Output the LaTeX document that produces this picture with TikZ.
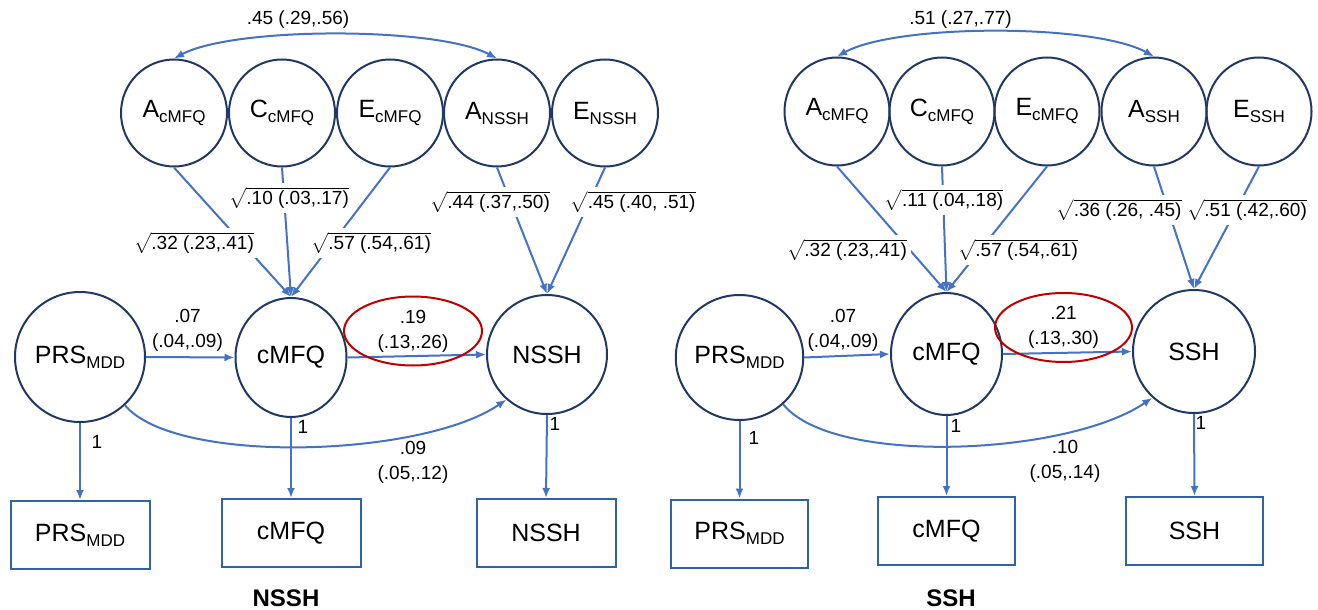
\documentclass[tikz,border=0pt]{standalone}
\usepackage{amsmath}
\usepackage{fontspec}
\setmainfont{Liberation Sans}
\usepackage{xcolor}
\usepackage{tikz}
\usetikzlibrary{shapes,arrows.meta}

\definecolor{latnavy}{RGB}{32,56,100}
\definecolor{linkblue}{RGB}{68,114,196}
\definecolor{boxblue}{RGB}{46,100,166}
\definecolor{markred}{RGB}{192,0,0}

\newcommand{\lsub}[1]{\raisebox{-5pt}{\fontsize{17}{20}\selectfont #1}}

\tikzset{
  latent/.style={ellipse, draw=latnavy, line width=2pt, inner sep=0pt, font=\fontsize{25}{28}\selectfont},
  observed/.style={rectangle, draw=boxblue, line width=2pt, minimum width=139pt, minimum height=68pt, font=\fontsize{25}{28}\selectfont},
  link/.style={draw=linkblue, line width=2pt, -{Latex[length=10pt,width=8pt]}},
  twolink/.style={draw=linkblue, line width=2pt, {Latex[length=10pt,width=8pt]}-{Latex[length=10pt,width=8pt]}},
  coef/.style={font=\fontsize{19}{25}\selectfont, align=center, inner sep=1pt},
  load/.style={coef, fill=white, inner sep=4pt},
  hilite/.style={ellipse, draw=markred, line width=2pt, minimum width=138pt, minimum height=69pt, coef},
  title/.style={font=\fontsize{24}{28}\selectfont\bfseries}
}

\begin{document}
\begin{tikzpicture}[x=1pt,y=1pt,yscale=-1]
\useasboundingbox (0,0) rectangle (1318,610);

%%%%% NSSH model (left)
% genetic / environmental factors
\node[latent, minimum width=106pt, minimum height=107pt] (AcL) at (174,113) {A\lsub{cMFQ}};
\node[latent, minimum width=106pt, minimum height=107pt] (CcL) at (282,113) {C\lsub{cMFQ}};
\node[latent, minimum width=106pt, minimum height=107pt] (EcL) at (390,113) {E\lsub{cMFQ}};
\node[latent, minimum width=106pt, minimum height=107pt] (AnL) at (497,113) {A\lsub{NSSH}};
\node[latent, minimum width=106pt, minimum height=107pt] (EnL) at (605,113) {E\lsub{NSSH}};

% latent phenotypes
\node[latent, minimum width=130pt, minimum height=130pt] (PRSL) at (80,357) {PRS\lsub{MDD}};
\node[latent, minimum width=111pt, minimum height=119pt] (cMFQL) at (291,357.5) {cMFQ};
\node[latent, minimum width=120pt, minimum height=119pt] (NSSHL) at (547,354.5) {NSSH};

% measured variables
\node[observed] (PRSbL) at (80,535) {PRS\lsub{MDD}};
\node[observed] (cMFQbL) at (291,533) {cMFQ};
\node[observed] (NSSHbL) at (546,533) {NSSH};

% paths
\draw[twolink] (AcL.north) .. controls +(60,-32) and +(-60,-32) .. (AnL.north);
\draw[link] (AcL.south) -- (cMFQL.north);
\draw[link] (CcL.south) -- (cMFQL.north);
\draw[link] (EcL.south) -- (cMFQL.north);
\draw[link] (AnL.south) -- (NSSHL.north);
\draw[link] (EnL.south) -- (NSSHL.north);
\draw[link] (PRSL.east) -- (cMFQL.west);
\draw[link] (cMFQL.east) -- (NSSHL.west);
\draw[link] (PRSL.-47) .. controls +(50,60) and +(-85,58) .. (NSSHL.-132);
\draw[link] (PRSL.south) -- (PRSbL.north);
\draw[link] (cMFQL.south) -- (cMFQbL.north);
\draw[link] (NSSHL.south) -- (NSSHbL.north);

% coefficients
\node[coef] (rAL) at (298,20) {.45 (.29,.56)};
\node[load] (qAcL) at (194,243) {$\sqrt{\text{.32 (.23,.41)}}$};
\node[load] (qCcL) at (289,198) {$\sqrt{\text{.10 (.03,.17)}}$};
\node[load] (qEcL) at (371,243) {$\sqrt{\text{.57 (.54,.61)}}$};
\node[load] (qAnL) at (490,202) {$\sqrt{\text{.44 (.37,.50)}}$};
\node[load] (qEnL) at (633,202) {$\sqrt{\text{.45 (.40, .51)}}$};
\node[coef] (bPcL) at (187.5,330.5) {.07\\(.04,.09)};
\node[hilite] (bcnL) at (413,331) {.19\\(.13,.26)};
\node[coef] (bPnL) at (413,462) {.09\\(.05,.12)};
\node[coef] (oPL) at (97,442) {1};
\node[coef] (ocL) at (303,427) {1};
\node[coef] (onL) at (555,424) {1};

% Text Node
\node[title] (tL) at (286,598) {NSSH};

%%%%% SSH model (right)
% genetic / environmental factors
\node[latent, minimum width=105pt, minimum height=108pt] (AcR) at (837,111.5) {A\lsub{cMFQ}};
\node[latent, minimum width=105pt, minimum height=108pt] (CcR) at (942,111.5) {C\lsub{cMFQ}};
\node[latent, minimum width=105pt, minimum height=108pt] (EcR) at (1047,111.5) {E\lsub{cMFQ}};
\node[latent, minimum width=105pt, minimum height=108pt] (AsR) at (1154,111.5) {A\lsub{SSH}};
\node[latent, minimum width=105pt, minimum height=108pt] (EsR) at (1259,111.5) {E\lsub{SSH}};

% latent phenotypes
\node[latent, minimum width=125pt, minimum height=125pt] (PRSR) at (739.5,357.5) {PRS\lsub{MDD}};
\node[latent, minimum width=111pt, minimum height=122pt] (cMFQR) at (946.5,354) {cMFQ};
\node[latent, minimum width=122pt, minimum height=123pt] (SSHR) at (1194,351.5) {SSH};

% measured variables
\node[observed, minimum width=137pt] (PRSbR) at (739.5,533.5) {PRS\lsub{MDD}};
\node[observed, minimum width=137pt] (cMFQbR) at (946.5,531) {cMFQ};
\node[observed, minimum width=137pt] (SSHbR) at (1194.5,531) {SSH};

% paths
\draw[twolink] (AcR.north) .. controls +(60,-33) and +(-60,-33) .. (AsR.north);
\draw[link] (AcR.south) -- (cMFQR.north);
\draw[link] (CcR.south) -- (cMFQR.north);
\draw[link] (EcR.south) -- (cMFQR.north);
\draw[link] (AsR.south) -- (SSHR.north);
\draw[link] (EsR.south) -- (SSHR.north);
\draw[link] (PRSR.east) -- (cMFQR.west);
\draw[link] (cMFQR.east) -- (SSHR.west);
\draw[link] (PRSR.-47) .. controls +(50,62) and +(-85,58) .. (SSHR.-132);
\draw[link] (PRSR.south) -- (PRSbR.north);
\draw[link] (cMFQR.south) -- (cMFQbR.north);
\draw[link] (SSHR.south) -- (SSHbR.north);

% coefficients
\node[coef] (rAR) at (960.5,20) {.51 (.27,.77)};
\node[load] (qAcR) at (847,250) {$\sqrt{\text{.32 (.23,.41)}}$};
\node[load] (qCcR) at (944,200) {$\sqrt{\text{.11 (.04,.18)}}$};
\node[load] (qEcR) at (1018,250) {$\sqrt{\text{.57 (.54,.61)}}$};
\node[load] (qAsR) at (1119,210) {$\sqrt{\text{.36 (.26, .45)}}$};
\node[load] (qEsR) at (1247,210) {$\sqrt{\text{.51 (.42,.60)}}$};
\node[coef] (bPcR) at (843,330.5) {.07\\(.04,.09)};
\node[hilite, minimum width=137pt] (bcsR) at (1063.5,327.5) {.21\\(.13,.30)};
\node[coef] (bPsR) at (1065,461) {.10\\(.05,.14)};
\node[coef] (oPR) at (754,438) {1};
\node[coef] (ocR) at (956,426) {1};
\node[coef] (osR) at (1201,423) {1};

% Text Node
\node[title] (tR) at (951,598) {SSH};

\end{tikzpicture}
\end{document}
